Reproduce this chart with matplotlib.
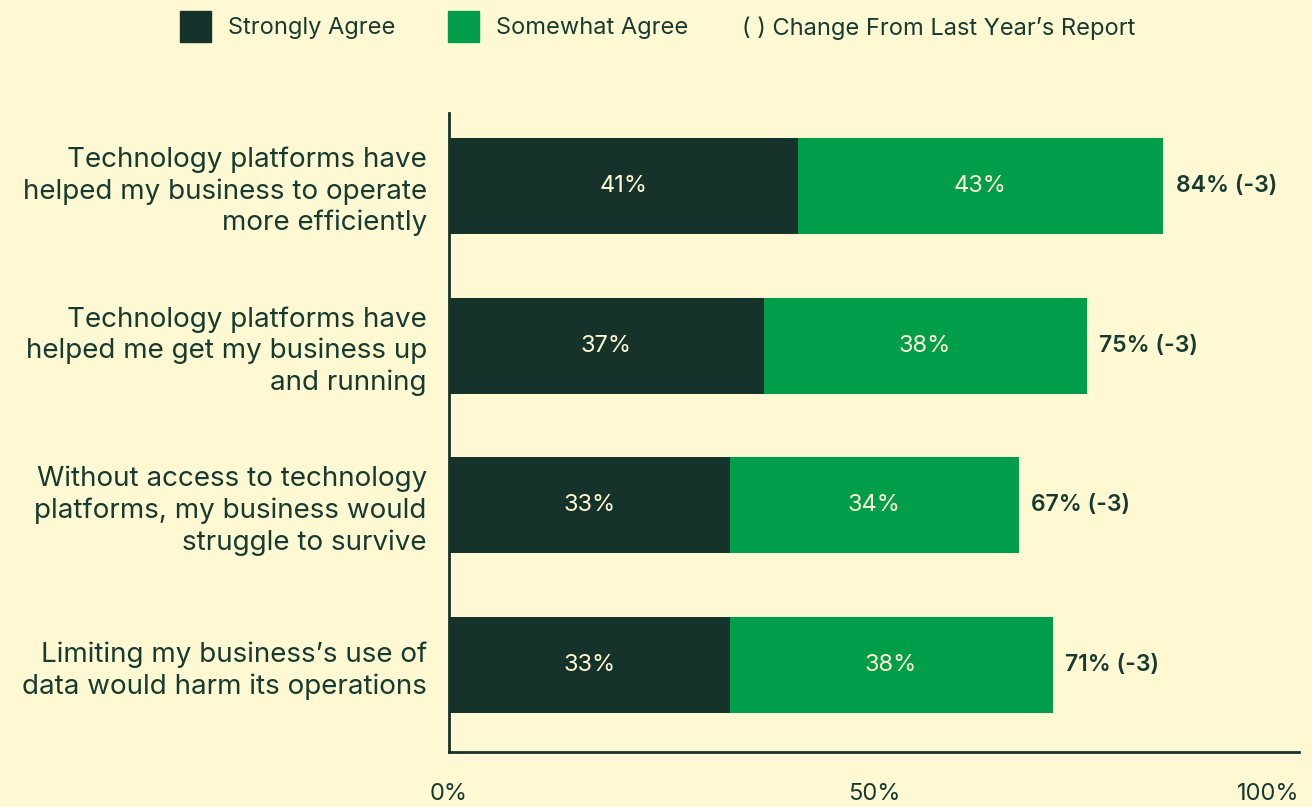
import matplotlib.pyplot as plt
from matplotlib.patches import Rectangle

# ===================================
# Data
# ===================================

categories = [
    "Technology platforms have\nhelped my business to operate\nmore efficiently",
    "Technology platforms have\nhelped me get my business up\nand running",
    "Without access to technology\nplatforms, my business would\nstruggle to survive",
    "Limiting my business\u2019s use of\ndata would harm its operations",
]
strongly = [41, 37, 33, 33]
somewhat = [43, 38, 34, 38]
totals = [84, 75, 67, 71]
changes = [-3, -3, -3, -3]
ticks = [0, 50, 100]
tick_labels = ["0%", "50%", "100%"]

# ===================================
# Style
# ===================================

BG = "#FFF9D3"
DARK = "#15332B"
GREEN = "#009E4A"
TEXT = "#173B30"

plt.rcParams['font.family'] = ['Inter', 'DejaVu Sans']

fig = plt.figure(figsize=(13.12, 8.07), dpi=100, facecolor=BG)
ax = fig.add_axes([449 / 1312, 1 - 752 / 807, 850 / 1312, (752 - 113) / 807])
ax.set_facecolor(BG)

ys = list(range(len(categories)))
ax.barh(ys, strongly, height=0.6, color=DARK)
ax.barh(ys, somewhat, left=strongly, height=0.6, color=GREEN)

for y, s, w, t, c in zip(ys, strongly, somewhat, totals, changes):
    ax.text(s / 2, y, f"{s}%", ha='center', va='center', color=BG, fontsize=17)
    ax.text(s + w / 2, y, f"{w}%", ha='center', va='center', color=BG, fontsize=17)
    ax.text(s + w + 1.5, y, f"{t}% ({c})", ha='left', va='center', color=TEXT,
            fontsize=16.5, fontweight='semibold')

ax.set_xlim(0, 100)
ax.set_ylim(3.545, -0.457)
ax.set_yticks(ys)
ax.set_yticklabels(categories, fontsize=20, color=TEXT, linespacing=1.25)
ax.set_xticks(ticks)
ax.set_xticklabels(tick_labels, fontsize=17, color=TEXT)
ax.get_xticklabels()[-1].set_ha('right')
ax.tick_params(axis='y', length=0, pad=16)
ax.tick_params(axis='x', length=0, pad=22)

for side in ['top', 'right']:
    ax.spines[side].set_visible(False)
for side in ['left', 'bottom']:
    ax.spines[side].set_color(DARK)
    ax.spines[side].set_linewidth(2)

# ===================================
# Legend
# ===================================

W, H = 1312, 807
fig.patches.append(Rectangle((180 / W, 1 - 42 / H), 31 / W, 31 / H,
                             transform=fig.transFigure, color=DARK))
fig.patches.append(Rectangle((448 / W, 1 - 42 / H), 31 / W, 31 / H,
                             transform=fig.transFigure, color=GREEN))
fig.text(228 / W, 1 - 28 / H, "Strongly Agree", fontsize=17, color=TEXT, va='center')
fig.text(496 / W, 1 - 28 / H, "Somewhat Agree", fontsize=17, color=TEXT, va='center')
fig.text(742 / W, 1 - 28 / H, "( ) Change From Last Year\u2019s Report", fontsize=17,
         color=TEXT, va='center')

plt.savefig("out.png", facecolor=BG)
